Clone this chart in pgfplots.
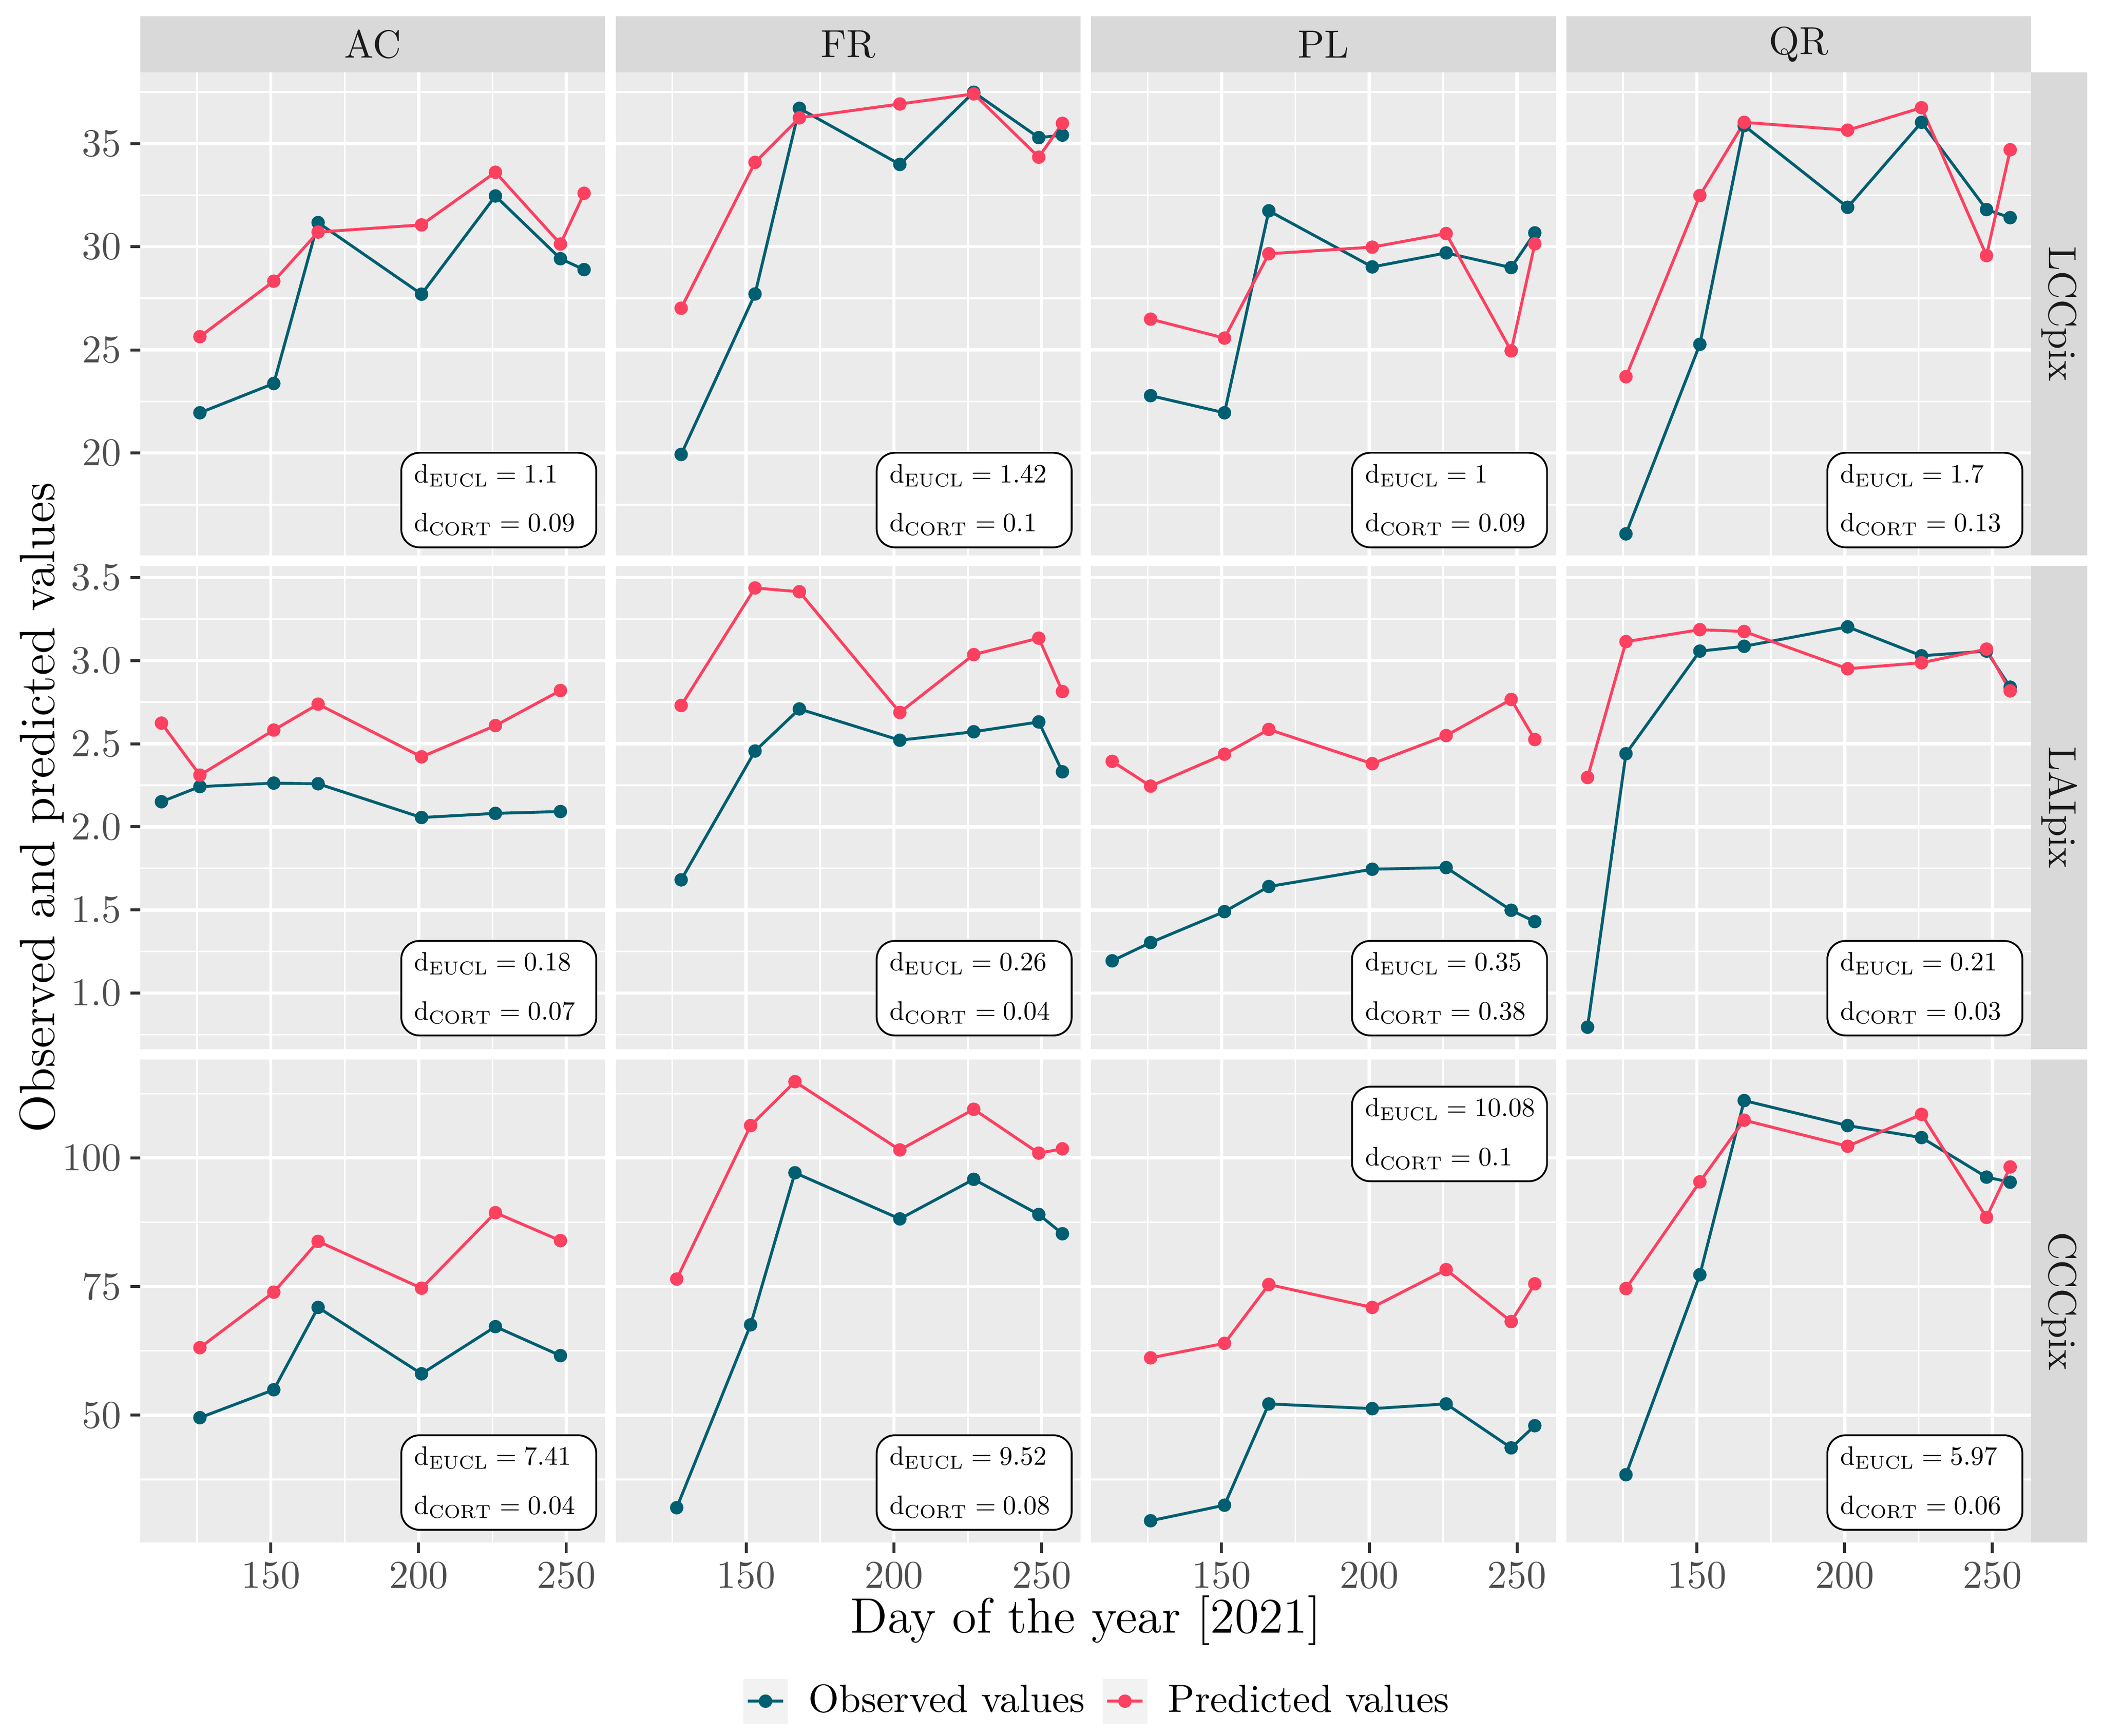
\RequirePackage{fix-cm}
\documentclass[border=0pt]{standalone}
\usepackage{fontspec}
\usepackage{graphicx}
\usepackage{pgfplots}
\pgfplotsset{compat=1.18}

\definecolor{obscol}{RGB}{0,94,113}
\definecolor{predcol}{RGB}{252,64,96}
\definecolor{panelbg}{RGB}{235,235,235}
\definecolor{stripbg}{RGB}{217,217,217}
\definecolor{keybg}{RGB}{242,242,242}
\definecolor{tickcol}{RGB}{51,51,51}
\definecolor{labcol}{RGB}{77,77,77}
\definecolor{stripcol}{RGB}{26,26,26}

\newcommand{\ticksize}{\fontsize{10.8}{12.9}\selectfont}
\newcommand{\titlesize}{\fontsize{13.65}{16.4}\selectfont}
% label text is set at 10pt and shrunk, so that the subscripts keep their shape
\newcommand{\dtxt}[2]{\scalebox{0.73}{\parbox{63.6pt}{\fontsize{10}{18.5}\selectfont
  \mbox{$\mathrm{d}_{\mathrm{EUCL}} = #1$}\\\mbox{$\mathrm{d}_{\mathrm{CORT}} = #2$}}}}

\pgfplotsset{
  panel/.style={
    scale only axis, width=127.84pt, height=132.83pt, anchor=north west,
    xmin=105.85, xmax=263.15,
    xtick={150,200,250}, minor xtick={125,175,225},
    grid=both,
    major grid style={white, line width=0.9pt},
    minor grid style={white, line width=0.45pt},
    axis line style={draw=none},
    axis background/.style={fill=panelbg},
    tick align=outside, major tick length=2.75pt, minor tick length=0pt,
    tick style={tickcol, line width=0.8pt},
    xtick pos=bottom, ytick pos=left,
    tick label style={font=\ticksize, text=labcol, inner sep=0pt},
    xticklabel style={yshift=-2.3pt},
    yticklabel style={xshift=-2.3pt},
    /pgf/number format/assume math mode=true,
  },
  nox/.style={xticklabels={}, xtick style={draw=none}},
  noy/.style={yticklabels={}, ytick style={draw=none}},
  row1/.style={ymin=15.03, ymax=38.45, ytick={20,25,30,35},
    minor ytick={17.5,22.5,27.5,32.5,37.5}},
  row2/.style={ymin=0.663, ymax=3.569, ytick={1,1.5,2,2.5,3,3.5},
    minor ytick={0.75,1.25,1.75,2.25,2.75,3.25},
    yticklabel style={/pgf/number format/.cd, fixed, fixed zerofill, precision=1}},
  row3/.style={ymin=25.21, ymax=119.1, ytick={50,75,100},
    minor ytick={37.5,62.5,87.5,112.5}},
  obs/.style={obscol, line width=0.8pt, mark=*, mark size=1.45pt,
    mark options={solid, fill=obscol, draw=obscol}},
  pred/.style={predcol, line width=0.8pt, mark=*, mark size=1.45pt,
    mark options={solid, fill=predcol, draw=predcol}},
}
\tikzset{
  annot/.style={draw=black, fill=white, rounded corners=5pt, line width=0.5pt,
    inner xsep=3.6pt, inner ysep=2.6pt, minimum height=26pt},
}

\begin{document}
\begin{tikzpicture}
\path (0pt,0pt) rectangle (578.31pt,-477.3pt);

% ---------------- row 1: LCCpix ----------------
\begin{axis}[panel, row1, nox, at={(38.59pt,-19.91pt)}]
\addplot[obs] coordinates {(126,21.95)(151,23.37)(166,31.17)(201,27.70)(226,32.46)(248,29.42)(256,28.89)};
\addplot[pred] coordinates {(126,25.64)(151,28.33)(166,30.71)(201,31.06)(226,33.61)(248,30.13)(256,32.59)};
\node[annot, anchor=south east, xshift=-2.2pt, yshift=2pt] at (rel axis cs:1,0) {\dtxt{1.1}{0.09}};
\end{axis}
\begin{axis}[panel, row1, nox, noy, at={(169.31pt,-19.91pt)}]
\addplot[obs] coordinates {(128,19.93)(153,27.71)(168,36.71)(202,33.99)(227,37.49)(249,35.29)(257,35.41)};
\addplot[pred] coordinates {(128,27.02)(153,34.09)(168,36.25)(202,36.92)(227,37.41)(249,34.34)(257,35.98)};
\node[annot, anchor=south east, xshift=-2.2pt, yshift=2pt] at (rel axis cs:1,0) {\dtxt{1.42}{0.1}};
\end{axis}
\begin{axis}[panel, row1, nox, noy, at={(300.03pt,-19.91pt)}]
\addplot[obs] coordinates {(126,22.78)(151,21.95)(166,31.74)(201,29.02)(226,29.70)(248,28.99)(256,30.67)};
\addplot[pred] coordinates {(126,26.49)(151,25.57)(166,29.66)(201,29.98)(226,30.64)(248,24.95)(256,30.14)};
\node[annot, anchor=south east, xshift=-2.2pt, yshift=2pt] at (rel axis cs:1,0) {\dtxt{1}{0.09}};
\end{axis}
\begin{axis}[panel, row1, nox, noy, at={(430.75pt,-19.91pt)}]
\addplot[obs] coordinates {(126,16.08)(151,25.27)(166,35.87)(201,31.91)(226,36.03)(248,31.80)(256,31.41)};
\addplot[pred] coordinates {(126,23.70)(151,32.48)(166,36.03)(201,35.65)(226,36.74)(248,29.57)(256,34.70)};
\node[annot, anchor=south east, xshift=-2.2pt, yshift=2pt] at (rel axis cs:1,0) {\dtxt{1.7}{0.13}};
\end{axis}

% ---------------- row 2: LAIpix ----------------
\begin{axis}[panel, row2, nox, at={(38.59pt,-155.62pt)}]
\addplot[obs] coordinates {(113,2.151)(126,2.242)(151,2.263)(166,2.259)(201,2.056)(226,2.081)(248,2.092)};
\addplot[pred] coordinates {(113,2.624)(126,2.311)(151,2.582)(166,2.738)(201,2.421)(226,2.609)(248,2.820)};
\node[annot, anchor=south east, xshift=-2.2pt, yshift=3.5pt] at (rel axis cs:1,0) {\dtxt{0.18}{0.07}};
\end{axis}
\begin{axis}[panel, row2, nox, noy, at={(169.31pt,-155.62pt)}]
\addplot[obs] coordinates {(128,1.681)(153,2.456)(168,2.709)(202,2.521)(227,2.572)(249,2.631)(257,2.331)};
\addplot[pred] coordinates {(128,2.730)(153,3.437)(168,3.414)(202,2.688)(227,3.036)(249,3.135)(257,2.814)};
\node[annot, anchor=south east, xshift=-2.2pt, yshift=3.5pt] at (rel axis cs:1,0) {\dtxt{0.26}{0.04}};
\end{axis}
\begin{axis}[panel, row2, nox, noy, at={(300.03pt,-155.62pt)}]
\addplot[obs] coordinates {(113,1.194)(126,1.304)(151,1.490)(166,1.641)(201,1.745)(226,1.755)(248,1.498)(256,1.430)};
\addplot[pred] coordinates {(113,2.394)(126,2.245)(151,2.437)(166,2.586)(201,2.380)(226,2.549)(248,2.766)(256,2.525)};
\node[annot, anchor=south east, xshift=-2.2pt, yshift=3.5pt] at (rel axis cs:1,0) {\dtxt{0.35}{0.38}};
\end{axis}
\begin{axis}[panel, row2, nox, noy, at={(430.75pt,-155.62pt)}]
\addplot[obs] coordinates {(113,0.795)(126,2.440)(151,3.057)(166,3.086)(201,3.203)(226,3.029)(248,3.057)(256,2.840)};
\addplot[pred] coordinates {(113,2.297)(126,3.114)(151,3.186)(166,3.175)(201,2.951)(226,2.987)(248,3.069)(256,2.818)};
\node[annot, anchor=south east, xshift=-2.2pt, yshift=3.5pt] at (rel axis cs:1,0) {\dtxt{0.21}{0.03}};
\end{axis}

% ---------------- row 3: CCCpix ----------------
\begin{axis}[panel, row3, at={(38.59pt,-291.34pt)},
  legend style={at={(axis description cs:2.064,-0.328)}, anchor=center,
    draw=none, fill=none, legend columns=2, font=\ticksize, text=black,
    /tikz/every even column/.append style={column sep=2.8pt}},
  legend image code/.code={\fill[keybg] (0pt,-5.75pt) rectangle (11.5pt,5.75pt);
    \draw[mark repeat=2,mark phase=2,#1] plot coordinates {(0.9pt,0pt) (5.75pt,0pt) (10.6pt,0pt)};}]
\addplot[obs] coordinates {(126,49.51)(151,54.94)(166,70.94)(201,58.04)(226,67.21)(248,61.57)};
\addlegendentry{\hspace{3.7pt}Observed values}
\addplot[pred] coordinates {(126,63.12)(151,73.91)(166,83.78)(201,74.68)(226,89.35)(248,83.92)};
\addlegendentry{\hspace{3.7pt}Predicted values}
\node[annot, anchor=south east, xshift=-2.2pt, yshift=3.3pt] at (rel axis cs:1,0) {\dtxt{7.41}{0.04}};
\end{axis}
\begin{axis}[panel, row3, noy, at={(169.31pt,-291.34pt)}]
\addplot[obs] coordinates {(126.5,32.02)(151.5,67.56)(166.5,97.11)(202,88.15)(227,95.84)(249,89.0)(257,85.26)};
\addplot[pred] coordinates {(126.5,76.45)(151.5,106.28)(166.5,114.81)(202,101.55)(227,109.45)(249,100.92)(257,101.76)};
\node[annot, anchor=south east, xshift=-2.2pt, yshift=3.3pt] at (rel axis cs:1,0) {\dtxt{9.52}{0.08}};
\end{axis}
\begin{axis}[panel, row3, noy, at={(300.03pt,-291.34pt)}]
\addplot[obs] coordinates {(126,29.48)(151,32.51)(166,52.19)(201,51.27)(226,52.19)(248,43.65)(256,47.95)};
\addplot[pred] coordinates {(126,61.14)(151,63.96)(166,75.39)(201,70.94)(226,78.28)(248,68.19)(256,75.53)};
\node[annot, anchor=north east, xshift=-2.2pt, yshift=-7.2pt] at (rel axis cs:1,1) {\dtxt{10.08}{0.1}};
\end{axis}
\begin{axis}[panel, row3, noy, at={(430.75pt,-291.34pt)}]
\addplot[obs] coordinates {(126,38.43)(151,77.29)(166,111.14)(201,106.28)(226,103.95)(248,96.26)(256,95.28)};
\addplot[pred] coordinates {(126,74.61)(151,95.35)(166,107.33)(201,102.26)(226,108.46)(248,88.43)(256,98.24)};
\node[annot, anchor=south east, xshift=-2.2pt, yshift=3.3pt] at (rel axis cs:1,0) {\dtxt{5.97}{0.06}};
\end{axis}

% ---------------- strips ----------------
\foreach \x/\t in {38.59/AC,169.31/FR,300.03/PL,430.75/QR} {
  \fill[stripbg] (\x pt,-4.5pt) rectangle ++(127.84pt,-15.41pt);
  \node[font=\ticksize, text=stripcol] at ({\x pt+63.92pt},-12.2pt) {\t};
}
\foreach \y/\t in {19.91/LCCpix,155.62/LAIpix,291.34/CCCpix} {
  \fill[stripbg] (558.59pt,-\y pt) rectangle ++(15.4pt,-132.83pt);
  \node[font=\ticksize, text=stripcol, rotate=-90] at (566.3pt,{-\y pt-66.415pt}) {\t};
}

% ---------------- axis titles ----------------
\node[rotate=90, font=\titlesize] at (11.5pt,-222.04pt) {Observed and predicted values};
\node[font=\titlesize, anchor=base, inner sep=0pt] at (298.59pt,-449pt) {Day of the year [2021]};
\end{tikzpicture}
\end{document}
